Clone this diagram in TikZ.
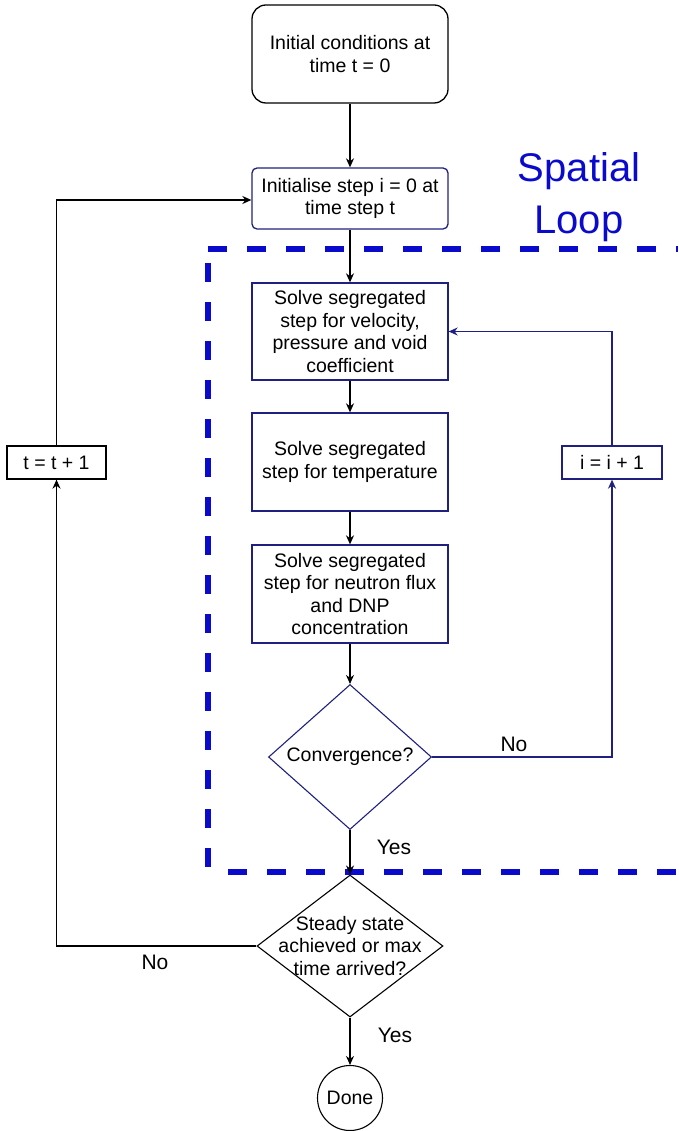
\documentclass[tikz,border=0pt]{standalone}
\usepackage{fontspec}
\setmainfont{Liberation Sans}
\usetikzlibrary{shapes.geometric,arrows.meta}
\definecolor{navy}{RGB}{32,32,128}
\definecolor{loopblue}{RGB}{10,10,205}
\begin{document}
\begin{tikzpicture}[x=1pt,y=-1pt,
  txt/.style={font=\fontsize{19.5}{22.5}\selectfont},
  box/.style={draw, line width=1.3pt, align=center, txt, inner sep=0pt, minimum width=196pt},
  dia/.style={draw, shape=diamond, line width=1.1pt, inner sep=0pt},
  conn/.style={line width=1.3pt, -{Stealth[length=9pt,width=8pt]}},
  lbl/.style={font=\fontsize{21}{24}\selectfont},
  loopdash/.style={loopblue, line width=6.5pt, dash pattern=on 19pt off 20pt}
]
\useasboundingbox (0,0) rectangle (678,1131);

% spatial loop frame
\draw[loopdash] (208,249) -- (678,249);
\draw[loopdash] (208,263) -- (208,872);
\draw[loopdash] (228,872) -- (678,872);
\node[loopblue, align=center, font=\fontsize{40}{52}\selectfont] (title) at (579,197) {Spatial\\Loop};

% main column
\node[box, rounded corners=14pt, minimum height=98pt] (init) at (350,54) {Initial conditions at\\time t = 0};
\node[box, navy, text=black, rounded corners=5pt, minimum height=61pt] (istep) at (350,198.5) {Initialise step i = 0 at\\time step t};
\node[box, navy, text=black, minimum height=97pt] (s1) at (350,331.5) {Solve segregated\\step for velocity,\\pressure and void\\coefficient};
\node[box, navy, text=black, minimum height=98pt] (s2) at (350,462) {Solve segregated\\step for temperature};
\node[box, navy, text=black, minimum height=98pt] (s3) at (350,594) {Solve segregated\\step for neutron flux\\and DNP\\concentration};
\node[dia, navy, minimum width=163pt, minimum height=145pt,
      label={[txt, text=black]center:Convergence?}] (conv) at (350,757) {};
\node[dia, black, minimum width=186pt, minimum height=142pt,
      label={[txt, align=center]center:Steady state\\achieved or max\\time arrived?}] (steady) at (350,946) {};
\node[draw, circle, line width=1.1pt, minimum size=65pt, inner sep=0pt, txt] (done) at (350,1098) {Done};

% side boxes
\node[box, navy, text=black, minimum width=100pt, minimum height=33pt] (ibox) at (612,462.5) {i = i + 1};
\node[box, minimum width=99pt, minimum height=33pt] (tbox) at (56.5,462.5) {t = t + 1};

% main connectors
\draw[conn] (init) -- (istep);
\draw[conn] (istep) -- (s1);
\draw[conn] (s1) -- (s2);
\draw[conn] (s2) -- (s3);
\draw[conn] (s3) -- (conv);
\draw[conn] (conv) -- (steady);
\draw[conn] (steady) -- (done);

% spatial loop
\draw[conn, navy] (conv.east) -| (ibox.south);
\draw[conn, navy] (ibox.north) |- (s1.east);

% time loop
\draw[conn] (steady.west) -| (tbox.south);
\draw[conn] (tbox.north) |- ([yshift=-1.5pt]istep.west);

% labels
\node[lbl] (no1) at (514,744) {No};
\node[lbl] (yes1) at (394,847) {Yes};
\node[lbl] (no2) at (155,962) {No};
\node[lbl] (yes2) at (395,1035) {Yes};
\end{tikzpicture}
\end{document}
